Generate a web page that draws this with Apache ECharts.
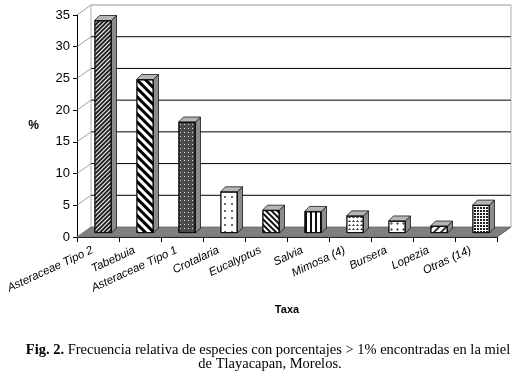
<!DOCTYPE html>
<html>
<head>
<meta charset="utf-8">
<script src="https://cdn.jsdelivr.net/npm/echarts@6/dist/echarts.min.js"></script>
<style>
  html, body { margin: 0; padding: 0; background: #fff; }
  #chart { width: 514px; height: 375px; }
</style>
</head>
<body>
<div id="chart"></div>
<script>
  // datos
  const taxa = ['Asteraceae Tipo 2', 'Tabebuia', 'Asteraceae Tipo 1', 'Crotalaria', 'Eucalyptus',
    'Salvia', 'Mimosa (4)', 'Bursera', 'Lopezia', 'Otras (14)'];
  const porcentajes = [33.5, 24.2, 17.5, 6.5, 3.6, 3.4, 2.7, 1.9, 1.1, 4.4];
  const yTicks = [0, 5, 10, 15, 20, 25, 30, 35];

  // tramas de cada barra (blanco y negro como en el original)
  const tramas = [
    { fill: '#fff', decal: { color: '#222', dashArrayX: [1, 0], dashArrayY: [1.5, 1], rotation: -Math.PI / 4 } },
    { fill: '#fff', decal: { color: '#000', dashArrayX: [1, 0], dashArrayY: [3, 3], rotation: Math.PI / 4 } },
    { fill: '#4a4a4a', decal: { color: '#ddd', symbol: 'rect', symbolSize: 1, dashArrayX: [1, 2.5], dashArrayY: [1, 2.5] } },
    { fill: '#fff', decal: { color: '#333', symbol: 'circle', symbolSize: 1, dashArrayX: [1.5, 5], dashArrayY: [1.5, 5] } },
    { fill: '#fff', decal: { color: '#111', dashArrayX: [1, 0], dashArrayY: [1.5, 1.2], rotation: Math.PI / 4 } },
    { fill: '#fff', decal: { color: '#111', dashArrayX: [1.5, 2.5], dashArrayY: [1, 0] } },
    { fill: '#fff', decal: { color: '#333', symbol: 'triangle', symbolSize: 1, dashArrayX: [3, 1], dashArrayY: [2, 1.5] } },
    { fill: '#fff', decal: { color: '#555', symbol: 'diamond', symbolSize: 1, dashArrayX: [2.5, 3], dashArrayY: [2.5, 3] } },
    { fill: '#fff', decal: { color: '#333', dashArrayX: [1, 0], dashArrayY: [1.2, 2.5], rotation: -Math.PI / 4 } },
    { fill: '#fff', decal: { color: '#222', symbol: 'rect', symbolSize: 1, dashArrayX: [1.2, 0.8], dashArrayY: [1.2, 0.8] } }
  ];

  const DX = 14, DY = -10;       // profundidad de la pared del fondo
  const BAR_W = 17, BX = 5, BY = -5; // ancho y profundidad de las barras

  const chart = echarts.init(document.getElementById('chart'));

  // pared del fondo, piso y lineas de division
  function drawWalls(params, api) {
    const cs = params.coordSys;
    const left = cs.x, right = cs.x + cs.width, bottom = cs.y + cs.height;
    const children = [];
    children.push({
      type: 'polygon',
      shape: { points: [[left, bottom], [left + DX, bottom + DY], [right + DX, bottom + DY], [right, bottom]] },
      style: { fill: '#7f7f7f', stroke: '#666', lineWidth: 0.8 }
    });
    yTicks.forEach(v => {
      const y = api.coord([0, v])[1];
      children.push({
        type: 'line',
        shape: { x1: left, y1: y, x2: left + DX, y2: y + DY },
        style: { stroke: '#888', lineWidth: 0.8 }
      });
      if (v > 0) {
        children.push({
          type: 'line',
          shape: { x1: left + DX, y1: y + DY, x2: right + DX, y2: y + DY },
          style: { stroke: v === 35 ? '#999' : '#000', lineWidth: 1 }
        });
      }
    });
    const top = api.coord([0, 35])[1] + DY;
    children.push({ type: 'line', shape: { x1: left + DX, y1: top, x2: left + DX, y2: bottom + DY }, style: { stroke: '#999', lineWidth: 0.8 } });
    children.push({ type: 'line', shape: { x1: right + DX, y1: top, x2: right + DX, y2: bottom + DY }, style: { stroke: '#999', lineWidth: 0.8 } });
    children.push({ type: 'line', shape: { x1: right, y1: bottom, x2: right + DX, y2: bottom + DY }, style: { stroke: '#666', lineWidth: 0.8 } });
    return { type: 'group', children: children };
  }

  // caras lateral y superior de cada barra
  function drawFaces(params, api) {
    const p = api.coord([api.value(0), api.value(1)]);
    const b = api.coord([api.value(0), 0]);
    const xl = p[0] - BAR_W / 2, xr = p[0] + BAR_W / 2;
    return {
      type: 'group',
      children: [
        {
          type: 'polygon',
          shape: { points: [[xr, p[1]], [xr + BX, p[1] + BY], [xr + BX, b[1] + BY], [xr, b[1]]] },
          style: { fill: '#8c8c8c', stroke: '#000', lineWidth: 0.7 }
        },
        {
          type: 'polygon',
          shape: { points: [[xl, p[1]], [xr, p[1]], [xr + BX, p[1] + BY], [xl + BX, p[1] + BY]] },
          style: { fill: '#b5b5b5', stroke: '#000', lineWidth: 0.7 }
        }
      ]
    };
  }

  const option = {
    animation: false,
    title: [
      {
        text: '{b|Fig. 2.} Frecuencia relativa de especies con porcentajes > 1% encontradas en la miel',
        left: 268, top: 343, textAlign: 'center', padding: 0,
        textStyle: {
          fontFamily: 'Liberation Serif', fontSize: 14.5, fontWeight: 'normal', color: '#000',
          rich: { b: { fontFamily: 'Liberation Serif', fontSize: 14.5, fontWeight: 'bold', color: '#000' } }
        }
      },
      {
        text: 'de Tlayacapan, Morelos.',
        left: 270, top: 357, textAlign: 'center', padding: 0,
        textStyle: { fontFamily: 'Liberation Serif', fontSize: 14.5, fontWeight: 'normal', color: '#000' }
      }
    ],
    grid: [
      { left: 77, top: 15, width: 420, height: 222 },
      { left: 82, top: 11, width: 420, height: 222 }
    ],
    xAxis: [
      {
        type: 'category', gridIndex: 0, data: taxa,
        name: 'Taxa', nameLocation: 'middle', nameGap: 67,
        nameTextStyle: { fontFamily: 'Liberation Sans', fontSize: 11, fontWeight: 'bold', color: '#000' },
        axisLine: { lineStyle: { color: '#000', width: 1 } },
        axisTick: { show: true, length: 5, lineStyle: { color: '#000' } },
        axisLabel: {
          interval: 0, rotate: 25, margin: 10, padding: [0, 6, 0, 0], color: '#000',
          fontFamily: 'Liberation Sans', fontSize: 11.5, fontStyle: 'italic'
        }
      },
      { type: 'category', gridIndex: 1, data: taxa, show: false }
    ],
    yAxis: [
      {
        type: 'value', gridIndex: 0, min: 0, max: 35, interval: 5,
        name: '%', nameLocation: 'middle', nameRotate: 0, nameGap: 38,
        nameTextStyle: { fontFamily: 'Liberation Sans', fontSize: 12, fontWeight: 'bold', color: '#000' },
        axisLine: { show: true, lineStyle: { color: '#000', width: 1 } },
        axisTick: { show: true, length: 4, lineStyle: { color: '#000' } },
        axisLabel: { margin: 7, color: '#000', fontFamily: 'Liberation Sans', fontSize: 13 },
        splitLine: { show: false }
      },
      { type: 'value', gridIndex: 1, min: 0, max: 35, interval: 5, show: false, splitLine: { show: false } }
    ],
    series: [
      {
        type: 'custom', xAxisIndex: 0, yAxisIndex: 0, z: 1, silent: true,
        data: [[0, 0]], renderItem: drawWalls
      },
      {
        type: 'bar', xAxisIndex: 1, yAxisIndex: 1, z: 3, barWidth: BAR_W,
        data: porcentajes.map((v, i) => ({
          value: v,
          itemStyle: { color: tramas[i].fill, borderColor: '#000', borderWidth: 0.8, decal: tramas[i].decal }
        }))
      },
      {
        type: 'custom', xAxisIndex: 1, yAxisIndex: 1, z: 3, silent: true,
        data: porcentajes.map((v, i) => [i, v]), renderItem: drawFaces
      }
    ]
  };
  chart.setOption(option);
</script>
</body>
</html>
